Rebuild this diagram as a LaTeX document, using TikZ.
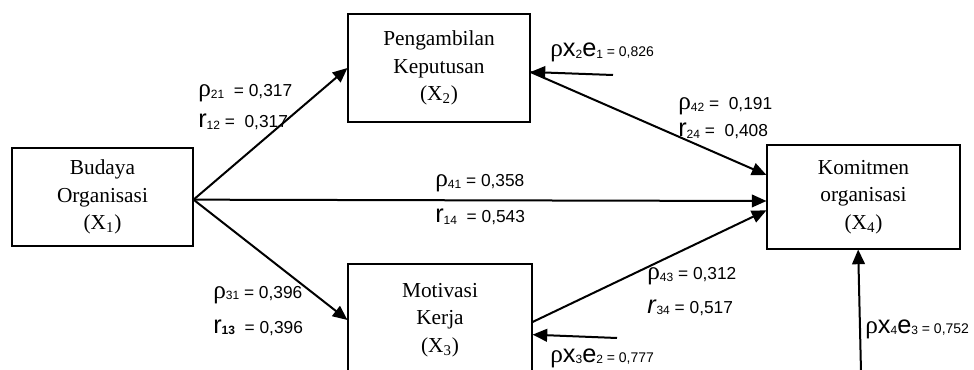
\documentclass[tikz,border=0pt]{standalone}
\usepackage{fontspec}
\setmainfont{Liberation Serif}
\newfontfamily\lblfont{Liberation Sans}
\usetikzlibrary{arrows.meta}
\newcommand\rr{{\fontsize{19}{19}\selectfont r}}
\newcommand\rh{{\rmfamily\fontsize{19}{19}\selectfont ρ}}
\newcommand\rhs{{\rmfamily\fontsize{19}{19}\selectfont ρ}}
\newcommand\idx[1]{\raisebox{-1pt}{\fontsize{9}{9}\selectfont #1}}
\newcommand\lettr[1]{{\fontsize{19}{19}\selectfont #1}}
\begin{document}
\begin{tikzpicture}[
  x=0.75pt,y=-0.75pt,
  var/.style={draw,line width=0.8pt,inner sep=0pt,align=center,
    font=\fontsize{16}{20.5}\selectfont},
  coef/.style={anchor=base west,inner sep=0pt,font=\lblfont\fontsize{13}{14}\selectfont},
  small/.style={coef,font=\lblfont\fontsize{10.5}{12}\selectfont},
  arr/.style={line width=1.5pt,-{Triangle[length=11pt,width=9.5pt]}}]
  \useasboundingbox (0,0) rectangle (974,370);
  % the four variables
  \node[var,minimum width=135.75pt,minimum height=73.5pt] (x1) at (102.5,197)
    {Budaya\\Organisasi\\(X\textsubscript{1})};
  \node[var,minimum width=136.5pt,minimum height=81pt] (x2) at (439,68)
    {Pengambilan\\Keputusan\\(X\textsubscript{2})};
  \node[var,minimum width=138pt,minimum height=84pt] (x3) at (440,320)
    {Motivasi\\Kerja\\(X\textsubscript{3})};
  \node[var,minimum width=144.75pt,minimum height=78pt] (x4) at (863.5,197)
    {Komitmen\\organisasi\\(X\textsubscript{4})};

  % paths between the variables
  \coordinate (o1) at ([yshift=-2pt]x1.east);
  \draw[arr] (o1) -- (x2.west);
  \draw[arr] (o1) -- (x3.west);
  \draw[arr] (o1) -- ([yshift=-3pt]x4.west);
  \draw[arr] ([yshift=-3pt]x2.east) -- ([yshift=16.5pt]x4.west);
  \draw[arr] ([yshift=-1.5pt]x3.east) -- ([yshift=-10pt]x4.west);

  % residuals
  \coordinate (e1) at (613,75);
  \coordinate (e2) at (617,338);
  \coordinate (e3) at (861,372);
  \draw[arr] (e1) -- ([yshift=-3pt]x2.east);
  \draw[arr] (e2) -- ([yshift=-11pt]x3.east);
  \draw[arr] (e3) -- ([xshift=-4pt]x4.south);

  % coefficients (base lines)
  \node[coef] (p21) at (198,97) {\rh\idx{21} \ = 0,317};
  \node[coef] (r12) at (198,128) {\rr\idx{12} = \ 0,317};
  \node[coef] (p41) at (435,187) {\rh\idx{41} = 0,358};
  \node[coef] (r14) at (435,223) {\rr\idx{14} \ = 0,543};
  \node[coef] (p31) at (213,298) {\rh\idx{31} = 0,396};
  \node[coef] (r13) at (213,333) {\rr\idx{\bfseries 13} \ = 0,396};
  \node[coef] (p42) at (678,110) {\rh\idx{42} = \ 0,191};
  \node[coef] (r24) at (678,137) {\rr\idx{24} = \ 0,408};
  \node[coef] (p43) at (647,280) {\rh\idx{43} = 0,312};
  \node[coef] (r34) at (647,313) {\textit{\rr}\idx{34} = 0,517};
  \node[small] (px2) at (550,57) {\rhs\lettr{x}\idx{2}\lettr{e}\idx{1} = 0,826};
  \node[small] (px3) at (550,362) {\rhs\lettr{x}\idx{3}\lettr{e}\idx{2} = 0,777};
  \node[small] (px4) at (865,333) {\rhs\lettr{x}\idx{4}\lettr{e}\idx{3} = 0,752};
\end{tikzpicture}
\end{document}
